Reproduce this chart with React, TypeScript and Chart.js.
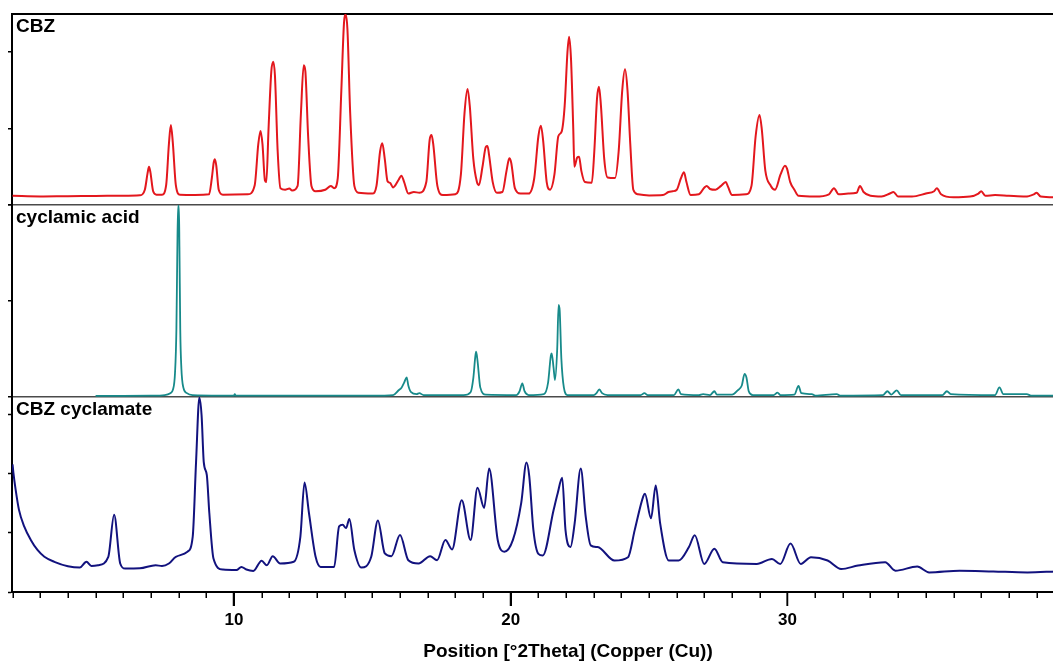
import React, { useEffect, useRef } from 'react';
import { Chart, registerables } from 'chart.js';

Chart.register(...registerables);

// ---- axis / panel settings ----
const xMin = 1.98;
const xMax = 42.16;
const xMajorTicks = [10, 20, 30];
const panelNames = ['CBZ', 'cyclamic acid', 'CBZ cyclamate'];
const panelMax = [2500, 2000, 3300];
const yTicksTop = [0, 1000, 2000, 2500];
const yTicksMid = [0, 1000, 2000];
const yTicksBot = [0, 1000, 2000, 3000];
const xTitle = 'Position [°2Theta] (Copper (Cu))';

// ---- CBZ pattern [2theta, counts] ----
const cbz: [number, number][] = [
  [2.0, 120], [3.0, 112], [4.0, 116], [5.0, 118], [6.0, 122], [6.6, 128], [6.78, 200], [6.88, 420], [6.93, 500], [6.98, 430],
  [7.08, 180], [7.2, 135], [7.4, 135], [7.55, 260], [7.65, 800], [7.72, 1047], [7.79, 820], [7.9, 260], [8.05, 135], [8.6, 132],
  [9.1, 140], [9.2, 350], [9.27, 560], [9.31, 600], [9.36, 520], [9.45, 200], [9.6, 135], [10.5, 140], [10.75, 260], [10.88, 800],
  [10.96, 970], [11.03, 800], [11.12, 320], [11.17, 300], [11.25, 1000], [11.35, 1750], [11.42, 1876], [11.48, 1700], [11.58, 700], [11.68, 220],
  [11.85, 200], [12.0, 215], [12.1, 190], [12.3, 250], [12.42, 1200], [12.52, 1830], [12.58, 1750], [12.68, 900], [12.8, 250], [12.95, 180],
  [13.3, 200], [13.5, 250], [13.62, 220], [13.75, 350], [13.88, 1500], [13.98, 2400], [14.04, 2490], [14.1, 2300], [14.2, 1200], [14.35, 250],
  [14.5, 160], [15.0, 150], [15.15, 250], [15.28, 700], [15.36, 807], [15.45, 600], [15.55, 310], [15.64, 290], [15.75, 230], [15.95, 330],
  [16.05, 384], [16.15, 300], [16.3, 150], [16.5, 170], [16.7, 160], [16.95, 300], [17.07, 850], [17.14, 916], [17.2, 800], [17.35, 250],
  [17.55, 130], [18.0, 140], [18.2, 400], [18.33, 1200], [18.44, 1518], [18.52, 1300], [18.65, 600], [18.78, 300], [18.85, 260], [18.98, 500],
  [19.1, 760], [19.16, 772], [19.22, 650], [19.35, 300], [19.5, 160], [19.7, 170], [19.85, 450], [19.95, 611], [20.02, 550], [20.15, 220],
  [20.35, 150], [20.65, 150], [20.85, 350], [21.0, 900], [21.09, 1038], [21.17, 850], [21.3, 300], [21.42, 200], [21.58, 400], [21.72, 900],
  [21.84, 960], [21.95, 1300], [22.05, 2000], [22.11, 2203], [22.18, 1900], [22.26, 1000], [22.3, 500], [22.4, 620], [22.47, 632], [22.55, 450],
  [22.68, 300], [22.93, 292], [23.02, 700], [23.12, 1400], [23.19, 1548], [23.26, 1300], [23.38, 600], [23.5, 360], [23.77, 353], [23.9, 700],
  [24.03, 1500], [24.13, 1776], [24.22, 1500], [24.32, 800], [24.43, 200], [24.6, 140], [25.0, 125], [25.5, 130], [25.7, 170], [25.85, 180],
  [26.0, 200], [26.15, 350], [26.26, 428], [26.35, 300], [26.5, 130], [26.8, 140], [27.0, 230], [27.08, 250], [27.2, 210], [27.4, 200],
  [27.6, 250], [27.77, 300], [27.85, 240], [28.0, 130], [28.5, 140], [28.7, 250], [28.85, 900], [28.99, 1178], [29.07, 1000], [29.2, 450],
  [29.4, 250], [29.55, 200], [29.75, 400], [29.91, 515], [29.98, 480], [30.1, 300], [30.25, 200], [30.4, 120], [31.0, 110], [31.5, 140],
  [31.68, 220], [31.85, 140], [32.2, 150], [32.5, 160], [32.62, 250], [32.75, 170], [33.0, 120], [33.4, 110], [33.7, 150], [33.83, 170],
  [34.0, 110], [34.5, 110], [35.0, 150], [35.3, 180], [35.4, 220], [35.55, 140], [36.0, 100], [36.6, 110], [36.9, 150], [37.0, 180],
  [37.15, 120], [37.5, 130], [38.0, 120], [38.6, 110], [38.9, 140], [39.0, 160], [39.15, 110], [39.7, 100],
];

// ---- cyclamic acid pattern ----
const cyclamicAcid: [number, number][] = [
  [5.0, 12], [6.0, 12], [7.0, 14], [7.5, 20], [7.7, 40], [7.8, 80], [7.87, 250], [7.92, 700], [7.95, 1430], [7.98, 1990],
  [8.01, 1990], [8.03, 1560], [8.06, 700], [8.1, 300], [8.17, 100], [8.3, 40], [8.5, 20], [9.5, 15], [10.0, 15], [10.03, 30],
  [10.06, 15], [11.0, 14], [12.0, 14], [13.0, 14], [14.0, 14], [15.0, 14], [15.75, 20], [15.95, 70], [16.06, 100], [16.15, 150],
  [16.24, 205], [16.3, 120], [16.4, 50], [16.6, 30], [16.7, 40], [16.85, 20], [18.3, 20], [18.55, 50], [18.65, 200], [18.72, 420],
  [18.75, 472], [18.8, 380], [18.9, 100], [19.1, 25], [20.2, 20], [20.32, 60], [20.42, 142], [20.5, 60], [20.65, 20], [21.2, 30],
  [21.35, 150], [21.45, 430], [21.48, 455], [21.55, 300], [21.6, 177], [21.68, 500], [21.73, 960], [21.77, 900], [21.83, 400], [21.92, 100],
  [22.05, 20], [23.0, 20], [23.1, 40], [23.2, 80], [23.3, 40], [23.5, 20], [24.7, 20], [24.83, 40], [24.95, 20], [25.9, 20],
  [26.06, 80], [26.15, 30], [26.8, 20], [26.95, 30], [27.2, 20], [27.36, 60], [27.45, 25], [28.0, 25], [28.2, 70], [28.35, 120],
  [28.45, 240], [28.52, 200], [28.6, 60], [28.75, 20], [29.5, 20], [29.64, 45], [29.75, 20], [30.25, 25], [30.4, 115], [30.5, 40],
  [30.88, 30], [31.0, 15], [31.78, 30], [31.9, 15], [33.45, 20], [33.61, 60], [33.75, 25], [33.95, 70], [34.1, 20], [35.6, 20],
  [35.76, 60], [35.9, 30], [37.5, 20], [37.66, 100], [37.8, 30], [38.65, 30], [38.8, 15], [39.7, 15],
];

// ---- CBZ cyclamate pattern ----
const cbzCyclamate: [number, number][] = [
  [2.0, 2160], [2.03, 2020], [2.11, 1736], [2.23, 1394], [2.42, 1110], [2.66, 881], [2.9, 711], [3.15, 596], [3.51, 511], [4.0, 436],
  [4.43, 413], [4.67, 511], [4.85, 440], [5.09, 453], [5.46, 596], [5.67, 1309], [5.89, 482], [6.07, 396], [6.6, 400], [7.17, 453],
  [7.4, 440], [7.65, 482], [7.9, 596], [8.32, 682], [8.51, 938], [8.63, 2193], [8.75, 3290], [8.83, 2991], [8.91, 2193], [9.02, 1976],
  [9.11, 1337], [9.26, 567], [9.6, 379], [10.09, 372], [10.27, 425], [10.45, 380], [10.7, 357], [11.0, 528], [11.19, 453], [11.4, 607],
  [11.67, 482], [12.16, 511], [12.4, 938], [12.55, 1851], [12.71, 1337], [12.95, 596], [13.13, 425], [13.62, 425], [13.8, 1110], [13.93, 1137],
  [14.05, 1081], [14.17, 1235], [14.35, 711], [14.6, 413], [14.96, 596], [15.2, 1212], [15.45, 653], [15.69, 607], [16.0, 966], [16.3, 538],
  [16.67, 482], [17.09, 607], [17.34, 538], [17.64, 881], [17.88, 721], [18.23, 1553], [18.55, 881], [18.8, 1765], [19.04, 1423], [19.22, 2090],
  [19.53, 881], [19.77, 682], [20.08, 881], [20.38, 1508], [20.57, 2190], [20.67, 1961], [20.82, 1047], [21.0, 646], [21.16, 618], [21.55, 1389],
  [21.7, 1675], [21.86, 1932], [21.98, 1047], [22.16, 761], [22.31, 1161], [22.53, 2088], [22.71, 1276], [22.89, 790], [23.14, 761], [23.75, 533],
  [24.24, 589], [24.48, 1047], [24.79, 1618], [24.85, 1662], [25.07, 1247], [25.24, 1802], [25.4, 1161], [25.71, 533], [26.07, 533], [26.44, 761],
  [26.65, 961], [26.99, 475], [27.36, 733], [27.66, 504], [28.89, 475], [29.44, 560], [29.74, 475], [30.11, 819], [30.48, 475], [30.85, 589],
  [31.45, 533], [31.94, 389], [32.55, 447], [33.53, 504], [33.9, 361], [34.69, 430], [35.12, 332], [36.22, 361], [37.44, 347], [38.67, 332],
  [39.7, 347],
];

const FONT = "'Liberation Sans', Arial, Helvetica, sans-serif";
const yIds = ['yTop', 'yMid', 'yBot'];

export default function App() {
  const ref = useRef<HTMLCanvasElement>(null);

  useEffect(() => {
    const canvas = ref.current;
    if (!canvas) return;
    Chart.defaults.font.family = FONT;

    const overlay = {
      id: 'xrdOverlay',
      afterDraw(chart: any) {
        const { ctx, chartArea } = chart;
        const xs = chart.scales.x;
        ctx.save();
        ctx.strokeStyle = '#000';
        ctx.lineWidth = 1.5;
        for (let v = Math.ceil(xMin); v <= xMax; v++) {
          const major = xMajorTicks.includes(v);
          const px = Math.round(xs.getPixelForValue(v)) + 0.25;
          ctx.beginPath();
          ctx.moveTo(px, chartArea.bottom);
          ctx.lineTo(px, chartArea.bottom + (major ? 14 : 6));
          ctx.stroke();
        }
        ctx.font = `bold 19px ${FONT}`;
        ctx.fillStyle = '#000';
        ctx.textBaseline = 'alphabetic';
        ctx.textAlign = 'left';
        yIds.forEach((id, i) => {
          const s = chart.scales[id];
          ctx.fillText(panelNames[i], chartArea.left + 4, s.top + 17.5);
        });
        ctx.restore();
      },
    };

    const transparent = 'rgba(0,0,0,0)';

    const makeY = (i: number, weight: number, stackWeight: number, tickValues: number[],
      gridColor: (v: number) => string, gridWidth: (v: number) => number, tickHidden: (v: number) => boolean) => ({
      type: 'linear',
      position: 'left',
      stack: 'xrd',
      stackWeight,
      weight,
      min: 0,
      max: panelMax[i],
      ticks: { display: false },
      afterBuildTicks: (s: any) => { s.ticks = tickValues.map((v) => ({ value: v })); },
      grid: {
        display: true,
        drawOnChartArea: true,
        drawTicks: true,
        tickLength: 4,
        color: (c: any) => gridColor(c.tick ? c.tick.value : -1),
        lineWidth: (c: any) => gridWidth(c.tick ? c.tick.value : -1),
        tickColor: (c: any) => (c.tick && tickHidden(c.tick.value) ? transparent : '#000'),
        tickWidth: 1.5,
      },
      border: { display: true, color: '#000', width: 2 },
      afterFit: (s: any) => { s.width = 4; },
    });

    const lineStyle = { pointRadius: 0, cubicInterpolationMode: 'monotone', borderJoinStyle: 'round' };

    const chart = new Chart(canvas, {
      type: 'line',
      data: {
        datasets: [
          { label: panelNames[0], data: cbz as any, yAxisID: 'yTop', borderColor: '#e3171d', borderWidth: 2, ...lineStyle },
          { label: panelNames[1], data: cyclamicAcid as any, yAxisID: 'yMid', borderColor: '#178a8a', borderWidth: 1.8, ...lineStyle },
          { label: panelNames[2], data: cbzCyclamate as any, yAxisID: 'yBot', borderColor: '#12127e', borderWidth: 2, ...lineStyle },
        ] as any,
      },
      options: {
        animation: false,
        responsive: false,
        events: [],
        layout: { padding: { left: 8, top: 14, right: 6, bottom: 0 } },
        plugins: { legend: { display: false }, tooltip: { enabled: false } },
        scales: {
          x: {
            type: 'linear',
            position: 'bottom',
            min: xMin,
            max: xMax,
            afterBuildTicks: (s: any) => { s.ticks = xMajorTicks.map((v) => ({ value: v })); },
            ticks: {
              autoSkip: false,
              maxRotation: 0,
              padding: 4,
              color: '#000',
              font: { size: 17, weight: 'bold', family: FONT },
            },
            grid: { display: true, drawOnChartArea: false, drawTicks: true, tickLength: 14, tickWidth: 1.5, tickColor: '#000' },
            border: { display: true, color: '#000', width: 2 },
            title: { display: true, text: xTitle, color: '#000', font: { size: 19, weight: 'bold', family: FONT }, padding: { top: 0, bottom: 2 } },
            afterFit: (s: any) => { s.height = 73; },
          },
          yTop: makeY(0, 3, 191, yTicksTop,
            (v) => (v === panelMax[0] ? '#000' : v === 0 ? '#4a4a4a' : transparent),
            (v) => (v === panelMax[0] ? 2 : 1.5),
            (v) => v === panelMax[0]),
          yMid: makeY(1, 2, 192, yTicksMid,
            (v) => (v === 0 ? '#4a4a4a' : transparent),
            () => 1.5,
            () => false),
          yBot: makeY(2, 1, 195, yTicksBot,
            () => transparent,
            () => 1,
            () => false),
        } as any,
      },
      plugins: [overlay],
    } as any);

    return () => chart.destroy();
  }, []);

  return (
    <div style={{ position: 'fixed', left: 0, top: 0, width: 1053, height: 665, overflow: 'hidden', background: '#fff' }}>
      <canvas ref={ref} width={1130} height={665} style={{ display: 'block' }} />
    </div>
  );
}
